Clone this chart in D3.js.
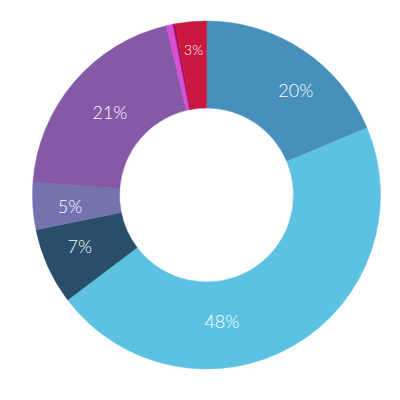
<!DOCTYPE html>
<html>
<head>
<meta charset="utf-8">
<script src="https://cdn.jsdelivr.net/npm/d3@7"></script>
<style>
  html, body { margin: 0; padding: 0; background: #fff; }
  svg { display: block; }
</style>
</head>
<body>
<svg id="chart" width="400" height="400"></svg>
<script>
// slices, clockwise from 12 o'clock
const segments = ['a', 'b', 'c', 'd', 'e', 'f', 'g', 'h']
const shares = [18.7, 46.0, 7.1, 4.4, 20.1, 0.6, 0.25, 2.85]
const labels = ['20%', '48%', '7%', '5%', '21%', '', '', '3%']
const colors = ['#4790bb', '#5dc2e1', '#294e69', '#7473b0', '#8659a6', '#d94fd6', '#a2115c', '#c9173f']

const svg = d3.select('#chart')
const cx = 206.5
const cy = 195
const outer = 174
const inner = 87

const data = segments.map((k, i) => ({ key: k, value: shares[i], label: labels[i] }))

const pie = d3.pie().sort(null).value((d) => d.value)
const arcs = pie(data)

const arc = d3.arc().innerRadius(inner).outerRadius(outer)

const g = svg.append('g').attr('transform', `translate(${cx}, ${cy})`)

g.selectAll('path')
    .data(arcs)
    .join('path')
    .attr('d', arc)
    .style('fill', (d, i) => colors[i])
    .style('stroke', (d, i) => colors[i])
    .style('stroke-width', 0.5)

// the labels don't all sit on the slice middle in the original
const nudge = { '20%': 7, '48%': 23, '7%': 2, '5%': -1.5 }
const labelR = { '48%': 128, '3%': 145, '21%': 127 }

g.selectAll('text')
    .data(arcs.filter((d) => d.data.label))
    .join('text')
    .attr('transform', (d) => {
        const mid = (d.startAngle + d.endAngle) / 2 + ((nudge[d.data.label] || 0) * Math.PI) / 180
        const r = labelR[d.data.label] || 137
        return `translate(${r * Math.sin(mid)}, ${-r * Math.cos(mid)})`
    })
    .attr('text-anchor', 'middle')
    .attr('dy', '0.35em')
    .style('fill', '#fff')
    .style('font-family', 'Lato, "Open Sans", sans-serif')
    .style('font-weight', 300)
    .style('font-size', (d) => (d.data.label === '3%' ? '14px' : '18px'))
    .text((d) => d.data.label)
</script>
</body>
</html>
